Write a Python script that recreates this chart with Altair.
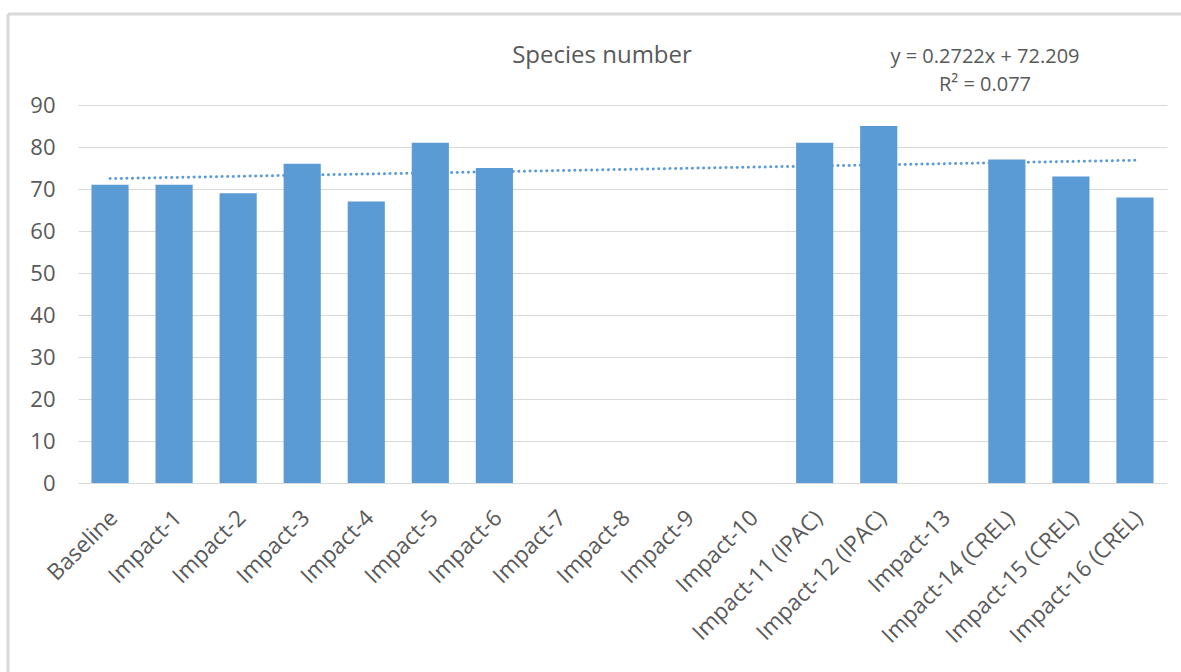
import altair as alt
import pandas as pd

categories = ["Baseline", "Impact-1", "Impact-2", "Impact-3", "Impact-4", "Impact-5",
              "Impact-6", "Impact-7", "Impact-8", "Impact-9", "Impact-10",
              "Impact-11 (IPAC)", "Impact-12 (IPAC)", "Impact-13", "Impact-14 (CREL)",
              "Impact-15 (CREL)", "Impact-16 (CREL)"]
species = [71, 71, 69, 76, 67, 81, 75, None, None, None, None, 81, 85, None, 77, 73, 68]

slope = 0.2722
intercept = 72.209
r2 = 0.077

bars_df = pd.DataFrame({"cat": categories, "val": species})
trend_df = pd.DataFrame({
    "cat": [categories[0], categories[-1]],
    "val": [intercept + slope * 1, intercept + slope * len(categories)],
})

FONT = "Open Sans"
GRAY = "#595959"
BLUE = "#5b9bd5"

x_enc = alt.X("cat:N", sort=categories, title=None,
              scale=alt.Scale(paddingInner=0.42, paddingOuter=0.21),
              axis=alt.Axis(labelAngle=-45, labelFontSize=22.5, labelColor=GRAY,
                            labelFont=FONT, ticks=False, domain=False, labelPadding=31,
                            labelOffset=4, labelLimit=500))
y_enc = alt.Y("val:Q", title=None,
              scale=alt.Scale(domain=[0, 90], nice=False),
              axis=alt.Axis(values=list(range(0, 91, 10)), labelFontSize=22, labelColor=GRAY,
                            labelFont=FONT, ticks=False, domain=False, labelPadding=23,
                            gridColor="#d9d9d9", gridWidth=1))

bars = alt.Chart(bars_df).mark_bar(color=BLUE).encode(x=x_enc, y=y_enc)

trend = alt.Chart(trend_df).mark_line(color=BLUE, strokeWidth=3, strokeDash=[0.1, 5.5],
                                       strokeCap="round").encode(
    x=alt.X("cat:N", sort=categories), y=alt.Y("val:Q"))

one = alt.Data(values=[{"a": 1}])
frame_left = alt.Chart(one).mark_rule(color="#d9d9d9", strokeWidth=3).encode(
    x=alt.value(-70), y=alt.value(-91), y2=alt.value(600))
frame_top = alt.Chart(one).mark_rule(color="#d9d9d9", strokeWidth=3).encode(
    x=alt.value(-70), x2=alt.value(1110), y=alt.value(-91))

title = alt.Chart(one).mark_text(text="Species number", font=FONT, fontSize=24,
                                 color=GRAY, align="center", baseline="middle").encode(
    x=alt.value(524), y=alt.value(-49))
eq1 = alt.Chart(one).mark_text(text=f"y = {slope}x + {intercept}", font=FONT, fontSize=20,
                               color=GRAY, align="center", baseline="middle").encode(
    x=alt.value(907), y=alt.value(-48))
eq2 = alt.Chart(one).mark_text(text=f"R² = {r2}", font=FONT, fontSize=20,
                               color=GRAY, align="center", baseline="middle").encode(
    x=alt.value(907), y=alt.value(-20))

chart = alt.layer(frame_left, frame_top, trend, bars, title, eq1, eq2).properties(
    width=1089, height=378,
    autosize=alt.AutoSizeParams(type="none"),
    padding={"left": 78, "top": 105, "right": 14, "bottom": 189},
    background="white",
).configure_view(stroke=None)

chart.save("out.html", embed_options={"renderer": "svg", "actions": False})
